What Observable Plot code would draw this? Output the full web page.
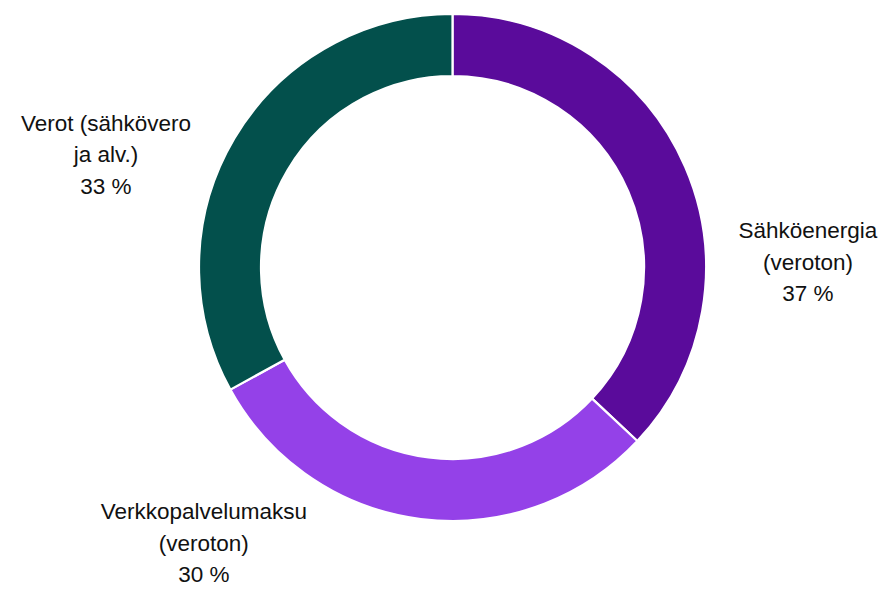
<!DOCTYPE html>
<html>
<head>
<meta charset="utf-8">
<script src="https://cdn.jsdelivr.net/npm/d3@7"></script>
<script src="https://cdn.jsdelivr.net/npm/@observablehq/plot@0.6"></script>
<style>
  html, body { margin: 0; padding: 0; background: #fff; }
  #chart svg { display: block; }
</style>
</head>
<body>
<div id="chart"></div>
<script>
const categories = ["Sähköenergia", "Verkkopalvelumaksu", "Verot"];
const labelLines = [
  ["Sähköenergia", "(veroton)"],
  ["Verkkopalvelumaksu", "(veroton)"],
  ["Verot (sähkövero", "ja alv.)"]
];
const shares = [37, 30, 33];
const colors = ["#5a0b9b", "#9441e8", "#03504c"];

const W = 886, H = 589;
const cx = 452.5, cy = 267.5, R = 253.5;
const innerRatio = 191.5 / 253.5;

// label anchor positions (in chart units, radius = 1)
const labelPos = [
  {x: 1.400, y: 0.032},
  {x: -0.983, y: -1.075},
  {x: -1.369, y: 0.456}
];

const pie = d3.pie().sort(null).value(d => d.value);
const slices = pie(categories.map((c, i) => ({category: c, value: shares[i], color: colors[i]})));

const labels = categories.map((c, i) => ({
  text: [...labelLines[i], `${shares[i]} %`].join("\n"),
  x: labelPos[i].x,
  y: labelPos[i].y
}));

function donut(index, scales, values, dimensions) {
  const x0 = scales.x(0), y0 = scales.y(0);
  const outer = scales.x(1) - x0;
  const inner = outer * innerRatio;
  const arc = d3.arc().innerRadius(inner).outerRadius(outer);
  const g = d3.create("svg:g").attr("transform", `translate(${x0},${y0})`);
  g.selectAll("path")
    .data(slices)
    .join("path")
    .attr("d", arc)
    .attr("fill", d => d.data.color)
    .attr("stroke", "#fff")
    .attr("stroke-width", 2.2)
    .attr("stroke-linejoin", "miter");
  return g.node();
}

const chart = Plot.plot({
  width: W,
  height: H,
  marginLeft: cx - R,
  marginRight: W - (cx + R),
  marginTop: cy - R,
  marginBottom: H - (cy + R),
  x: {domain: [-1, 1], axis: null},
  y: {domain: [-1, 1], axis: null},
  style: {fontFamily: "'Liberation Sans', Arial, sans-serif", background: "#fff"},
  marks: [
    donut,
    Plot.text(labels, {
      x: "x", y: "y", text: "text",
      fontSize: 22.5, lineHeight: 1.4, fill: "#111",
      textAnchor: "middle", lineAnchor: "middle"
    })
  ]
});
document.getElementById("chart").append(chart);
</script>
</body>
</html>
